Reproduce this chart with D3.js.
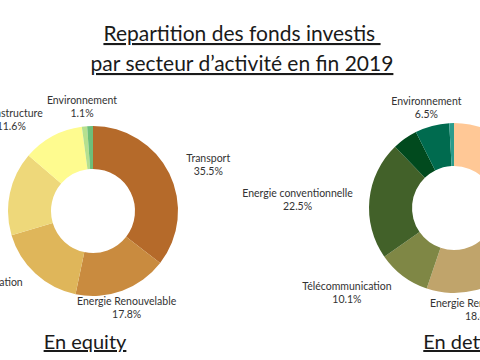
<!DOCTYPE html>
<html><head><meta charset="utf-8">
<script src="https://cdn.jsdelivr.net/npm/d3@7"></script>
<style>
html,body{margin:0;padding:0;background:#fff;overflow:hidden}
text{font-family:Lato,"Open Sans",sans-serif}
</style></head>
<body><svg id="c" width="480" height="360"></svg>
<script>
// ---- data ----
const titleLines = ["Repartition des fonds investis ", "par secteur d\u2019activit\u00e9 en fin 2019"];
const equityCategories = ["Transport","Energie Renouvelable","T\u00e9l\u00e9communication","Energie conventionnelle","Infrastructure","Autres","Environnement"];
const equityValues = [35.5, 17.8, 17.1, 15.9, 11.6, 1.0, 1.1];
const equityShowLabel = [true, true, true, true, true, false, true];
const detteCategories = ["Transport","Immobilier","Energie Renouvelable","T\u00e9l\u00e9communication","Energie conventionnelle","Infrastructure","Environnement","Autres"];
const detteValues = [24.0, 12.8, 18.4, 10.1, 22.5, 4.8, 6.5, 0.9];
const detteShowLabel = [true, true, true, true, true, false, true, false];
const subtitles = ["En equity", "En dette"];

// ---- styles / layout ----
const equityColors = ["#b56a2a","#c98b3f","#dfb65a","#eed87a","#fefb8f","#b5e08f","#6dbf7a"];
const detteColors = ["#ffc896","#e6a66c","#c0a46b","#7f8745","#426129","#014a1e","#006b4f","#2a9c8c"];
const equityNudge = [[12,5],[-6,-11],[-37,-7],[-70,0],[-27,10],[0,0],[-7,11]];
const detteNudge = [[0,0],[0,0],[-3,-9],[-38,-6.5],[-42,3],[0,0],[2,11],[0,0]];

const svg = d3.select("#c");
const outerR = 85, innerR = 42, labelR = 115;

function donut(cx, cy, cats, vals, colors, showLabel, nudge){
  const g = svg.append("g").attr("transform", `translate(${cx},${cy})`);
  const pie = d3.pie().sort(null).value(d => d.v);
  const data = pie(cats.map((c,i)=>({c, v: vals[i], i})));
  const color = d3.scaleOrdinal().domain(cats).range(colors);
  const arc = d3.arc().innerRadius(innerR).outerRadius(outerR);
  const lArc = d3.arc().innerRadius(labelR).outerRadius(labelR);
  g.selectAll("path").data(data).join("path")
    .attr("d", arc).attr("fill", d => color(d.data.c));
  const fmt = v => d3.format(".1f")(v) + "%";
  const lg = g.selectAll("g.lab").data(data.filter(d => showLabel[d.data.i])).join("g")
    .attr("class","lab")
    .attr("transform", d => { const [x,y] = lArc.centroid(d); const n = nudge[d.data.i]; return `translate(${x+n[0]},${y+n[1]})`; });
  lg.append("text").attr("text-anchor","middle").attr("y",-3)
    .attr("font-size",10.5).attr("fill","#333").text(d => d.data.c);
  lg.append("text").attr("text-anchor","middle").attr("y",10)
    .attr("font-size",10.5).attr("fill","#333").text(d => fmt(d.data.v));
}

donut(93, 211, equityCategories, equityValues, equityColors, equityShowLabel, equityNudge);
donut(454, 208, detteCategories, detteValues, detteColors, detteShowLabel, detteNudge);

svg.selectAll("text.title").data(titleLines).join("text")
  .attr("class","title").attr("x",242).attr("y",(d,i)=>41+i*30)
  .attr("text-anchor","middle").attr("font-size",21).attr("fill","#1a1a1a")
  .style("text-decoration","underline").style("white-space","pre")
  .text(d=>d);

svg.selectAll("text.sub").data(subtitles).join("text")
  .attr("class","sub").attr("x",(d,i)=>i===0?85:460).attr("y",349)
  .attr("text-anchor","middle").attr("font-size",20).attr("fill","#1a1a1a")
  .style("text-decoration","underline")
  .text(d=>d);
</script></body></html>
